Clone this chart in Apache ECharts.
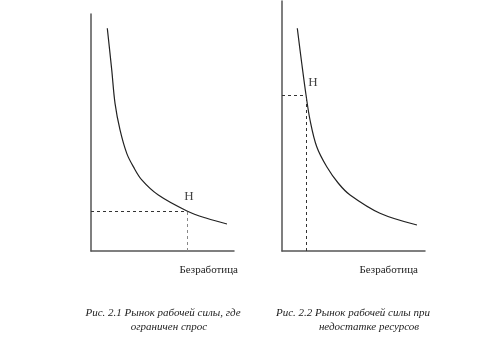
<!DOCTYPE html>
<html><head><meta charset="utf-8">
<script src="https://cdn.jsdelivr.net/npm/echarts@6/dist/echarts.min.js"></script>
<style>html,body{margin:0;padding:0;background:#fff}#c{width:477px;height:346px}</style>
</head><body><div id="c"></div>
<script>
// Left chart (Рис. 2.1): curve points [x, y] in axis units 0..100
const leftCurve = [[11.4,94.0],[14.5,76.4],[16.8,62.3],[20.3,51.1],[25.0,41.2],[29.6,35.6],[35.5,30.0],[47.1,23.6],[67.1,16.9],[80.9,13.8],[95.1,11.4]];
const leftPoint = [67.1, 16.9];
// Right chart (Рис. 2.2)
const rightCurve = [[10.7,89.1],[13.8,75.1],[16.8,62.4],[19.6,52.4],[24.3,41.7],[31.3,33.7],[39.4,27.1],[47.6,22.4],[68.5,15.1],[94.4,10.4]];
const rightPoint = [16.8, 62.4];
const pointLabel = 'Н';
const axisName = 'Безработица';
const captions = [
  ['Рис. 2.1 Рынок рабочей силы, где', 'ограничен спрос'],
  ['Рис. 2.2 Рынок рабочей силы при', 'недостатке ресурсов']
];

const serif = '"Liberation Serif","DejaVu Serif",serif';
const axisLine = {show:true, lineStyle:{color:'#555', width:1.5}};
function xAx(idx, gap){
  return {type:'value', gridIndex:idx, min:0, max:100, axisLine:axisLine, axisTick:{show:false}, axisLabel:{show:false}, splitLine:{show:false},
    name:axisName, nameLocation:'end', nameGap:gap,
    nameTextStyle:{fontFamily:serif, fontSize:11, color:'#222', align:'right', verticalAlign:'top', padding:[14,0,0,0]}};
}
function yAx(idx){
  return {type:'value', gridIndex:idx, min:0, max:100, axisLine:axisLine, axisTick:{show:false}, axisLabel:{show:false}, splitLine:{show:false}};
}
function dashLines(p, vColor){
  return {symbol:'none', silent:true, label:{show:false},
    lineStyle:{type:[3,3], color:'#333', width:1},
    data:[[{coord:[0,p[1]]},{coord:[p[0],p[1]]}],
          [{coord:[p[0],0], lineStyle:{color:vColor}},{coord:[p[0],p[1]]}]]};
}
function curve(idx, data, p, vColor){
  return {type:'line', xAxisIndex:idx, yAxisIndex:idx, data:data, smooth:0.35, symbol:'none',
    lineStyle:{color:'#222', width:1.2}, markLine:dashLines(p, vColor), animation:false};
}
function hLabel(idx, p, off){
  return {type:'scatter', xAxisIndex:idx, yAxisIndex:idx, data:[p], symbolSize:0, silent:true,
    label:{show:true, formatter:pointLabel, position:'inside', offset:off, fontFamily:serif, fontSize:13, color:'#111'}, animation:false};
}
const chart = echarts.init(document.getElementById('c'));
const cap = (t,x,y)=>({type:'text', x:x, y:y, style:{text:t, font:'italic 11px '+serif, fill:'#222', textAlign:'center', textVerticalAlign:'middle'}});
chart.setOption({
  animation:false,
  grid:[{left:91, top:14, width:143, height:237},{left:282, top:1, width:143, height:250}],
  xAxis:[xAx(0,4), xAx(1,-7)],
  yAxis:[yAx(0), yAx(1)],
  series:[curve(0,leftCurve,leftPoint,'#888'), curve(1,rightCurve,rightPoint,'#333'), hLabel(0,leftPoint,[2,-14]), hLabel(1,rightPoint,[7,-12])],
  graphic:[cap(captions[0][0],163,313), cap(captions[0][1],169,327), cap(captions[1][0],353,313), cap(captions[1][1],369,327)]
});
</script></body></html>
